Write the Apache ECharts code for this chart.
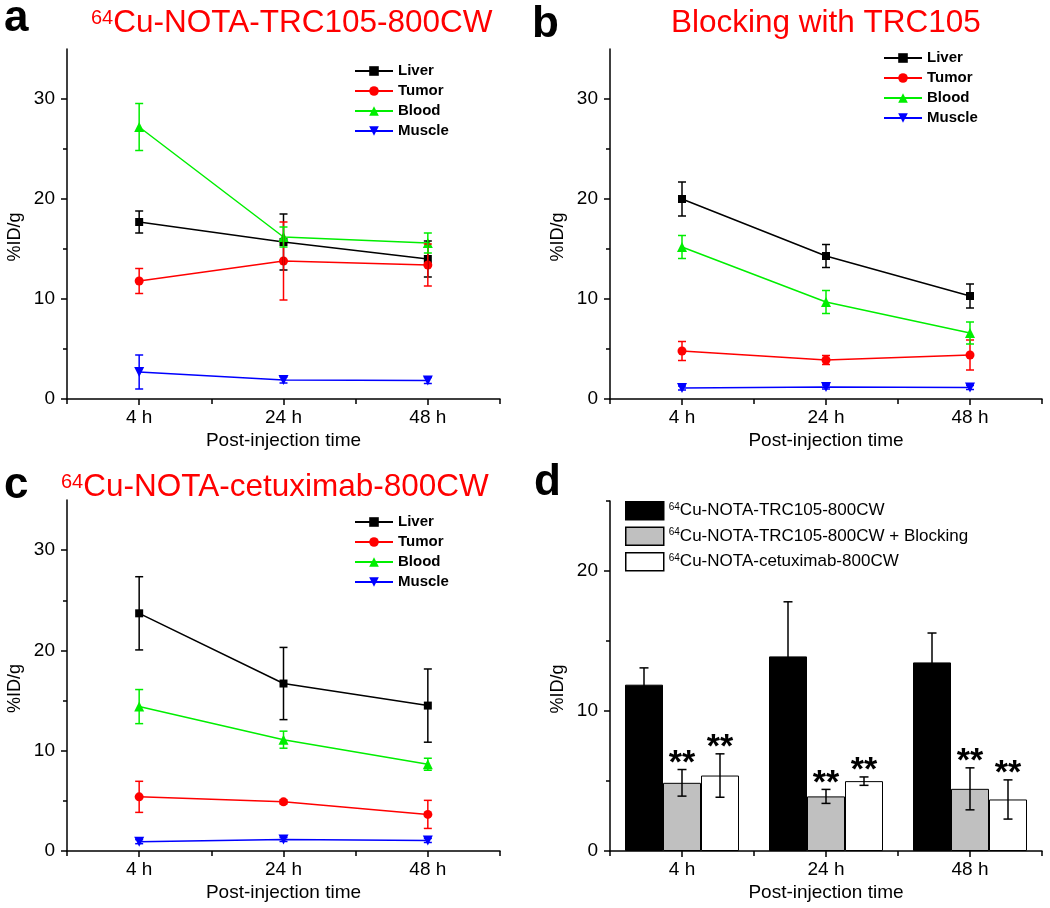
<!DOCTYPE html>
<html><head><meta charset="utf-8">
<script src="https://cdn.jsdelivr.net/npm/echarts@6/dist/echarts.min.js"></script>
<style>html,body{margin:0;padding:0;background:#fff}#c{width:1050px;height:908px}</style>
</head><body><div id="c"></div>
<script>
// ---------- data ----------
const categories = ['4 h', '24 h', '48 h'];
const organs = ['Liver', 'Tumor', 'Blood', 'Muscle'];
const yTicksLine = [0, 10, 20, 30];
const yMinorLine = [5, 15, 25];
const yTicksBar = [0, 10, 20];
const yMinorBar = [5, 15, 25];

// panel a: 64Cu-NOTA-TRC105-800CW
const aLiver = [17.7, 15.7, 14.0];   const aLiverErr = [1.1, 2.8, 1.8];
const aTumor = [11.8, 13.8, 13.4];   const aTumorErr = [1.25, 3.9, 2.1];
const aBlood = [27.2, 16.2, 15.6];   const aBloodErr = [2.35, 1.0, 1.0];
const aMuscle = [2.7, 1.9, 1.85];    const aMuscleErr = [1.7, 0.3, 0.3];
// panel b: Blocking with TRC105
const bLiver = [20.0, 14.3, 10.3];   const bLiverErr = [1.7, 1.15, 1.2];
const bTumor = [4.8, 3.9, 4.4];      const bTumorErr = [0.95, 0.45, 1.5];
const bBlood = [15.2, 9.7, 6.6];     const bBloodErr = [1.15, 1.15, 1.1];
const bMuscle = [1.1, 1.2, 1.15];    const bMuscleErr = [0.2, 0.2, 0.2];
// panel c: 64Cu-NOTA-cetuximab-800CW
const cLiver = [23.7, 16.7, 14.5];   const cLiverErr = [3.65, 3.6, 3.65];
const cTumor = [5.4, 4.9, 3.65];     const cTumorErr = [1.55, 0.2, 1.4];
const cBlood = [14.4, 11.1, 8.65];   const cBloodErr = [1.7, 0.85, 0.6];
const cMuscle = [0.93, 1.15, 1.05];  const cMuscleErr = [0.2, 0.2, 0.2];
// panel d: tumor uptake
const barNames = ['Cu-NOTA-TRC105-800CW', 'Cu-NOTA-TRC105-800CW + Blocking', 'Cu-NOTA-cetuximab-800CW'];
const dTRC = [11.88, 13.9, 13.47];   const dTRCErr = [1.2, 3.9, 2.1];
const dBlock = [4.87, 3.9, 4.44];    const dBlockErr = [0.95, 0.5, 1.5];
const dCetux = [5.39, 4.99, 3.68];   const dCetuxErr = [1.55, 0.3, 1.4];
const dBlockStars = ['**', '**', '**'];
const dCetuxStars = ['**', '**', '**'];

// ---------- styles ----------
const FONT = "'Liberation Sans', Arial, Helvetica, sans-serif";
const organColors = ['#000000', '#ff0000', '#00ee00', '#0000ff'];
const organSymbols = ['rect', 'circle', 'triangle', 'triangle'];
const organRotate = [0, 0, 0, 180];
const organSizes = [8, 9, 10, 10];
const AX = { color: '#000', width: 1.5 };

const grids = [
  { left: 67, top: 49, width: 433, height: 350 },
  { left: 610, top: 49, width: 432, height: 350 },
  { left: 67, top: 500, width: 433, height: 351 },
  { left: 610, top: 501, width: 432, height: 350 }
];

const xAxes = [], yAxes = [];
grids.forEach((gr, g) => {
  xAxes.push({
    type: 'category', gridIndex: g, data: categories, boundaryGap: true, position: 'bottom',
    axisLine: { show: true, lineStyle: AX },
    axisTick: { show: true, alignWithLabel: true, length: 6, lineStyle: AX },
    axisLabel: { fontSize: 19, color: '#000', margin: 9, fontFamily: FONT },
    splitLine: { show: false },
    name: 'Post-injection time', nameLocation: 'middle', nameGap: 32,
    nameTextStyle: { fontSize: 19, color: '#000', fontFamily: FONT }
  });
  xAxes.push({
    type: 'category', gridIndex: g, data: categories, boundaryGap: true, position: 'bottom',
    axisLine: { show: false }, axisTick: { show: true, length: 5, lineStyle: AX },
    axisLabel: { show: false }, splitLine: { show: false }
  });
  const isBar = g === 3;
  const max = isBar ? 25 : 35;
  const major = isBar ? yTicksBar : yTicksLine;
  const minor = isBar ? yMinorBar : yMinorLine;
  yAxes.push({
    type: 'value', gridIndex: g, min: 0, max: max, position: 'left',
    axisLine: { show: true, lineStyle: AX },
    axisTick: { show: true, length: 6, lineStyle: AX, customValues: major },
    axisLabel: { fontSize: 19, color: '#000', margin: 12, fontFamily: FONT, customValues: major },
    splitLine: { show: false },
    name: '%ID/g', nameLocation: 'middle', nameGap: 43, nameRotate: 90,
    nameTextStyle: { fontSize: 18, color: '#000', fontFamily: FONT, padding: [0, 26, 0, 0] }
  });
  yAxes.push({
    type: 'value', gridIndex: g, min: 0, max: max, position: 'left', offset: 0,
    axisLine: { show: false },
    axisTick: { show: true, length: 4, lineStyle: AX, customValues: minor },
    axisLabel: { show: false }, splitLine: { show: false }
  });
});

function errSeries(g, vals, errs, color, offset, capHalf) {
  return {
    type: 'custom', xAxisIndex: 2 * g, yAxisIndex: 2 * g, silent: true, z: 4,
    data: vals.map((v, i) => [i, v - errs[i], v + errs[i]]),
    renderItem: function (params, api) {
      const lo = api.coord([api.value(0), api.value(1)]);
      const hi = api.coord([api.value(0), api.value(2)]);
      const x = lo[0] + offset;
      const st = { stroke: color, lineWidth: 1.5 };
      return { type: 'group', children: [
        { type: 'line', shape: { x1: x, y1: lo[1], x2: x, y2: hi[1] }, style: st },
        { type: 'line', shape: { x1: x - capHalf, y1: lo[1], x2: x + capHalf, y2: lo[1] }, style: st },
        { type: 'line', shape: { x1: x - capHalf, y1: hi[1], x2: x + capHalf, y2: hi[1] }, style: st }
      ] };
    }
  };
}

function starSeries(g, vals, errs, stars, offset) {
  return {
    type: 'custom', xAxisIndex: 2 * g, yAxisIndex: 2 * g, silent: true, z: 5,
    data: vals.map((v, i) => [i, v + errs[i]]),
    renderItem: function (params, api) {
      const p = api.coord([api.value(0), api.value(1)]);
      return { type: 'text', x: p[0] + offset, y: p[1] + 11,
        style: { text: stars[params.dataIndex], fill: '#000', fontSize: 34, fontWeight: 'bold',
          fontFamily: FONT, align: 'center', verticalAlign: 'bottom' } };
    }
  };
}

const series = [];
const linePanels = [
  { g: 0, vals: [aLiver, aTumor, aBlood, aMuscle], errs: [aLiverErr, aTumorErr, aBloodErr, aMuscleErr] },
  { g: 1, vals: [bLiver, bTumor, bBlood, bMuscle], errs: [bLiverErr, bTumorErr, bBloodErr, bMuscleErr] },
  { g: 2, vals: [cLiver, cTumor, cBlood, cMuscle], errs: [cLiverErr, cTumorErr, cBloodErr, cMuscleErr] }
];
linePanels.forEach(p => {
  organs.forEach((o, k) => {
    series.push({
      type: 'line', name: o, xAxisIndex: 2 * p.g, yAxisIndex: 2 * p.g,
      data: p.vals[k], symbol: organSymbols[k], symbolSize: organSizes[k], symbolRotate: organRotate[k],
      lineStyle: { color: organColors[k], width: 1.5 },
      itemStyle: { color: organColors[k] }, z: 3, animation: false
    });
  });
  organs.forEach((o, k) => series.push(errSeries(p.g, p.vals[k], p.errs[k], organColors[k], 0, 4)));
});

const barVals = [dTRC, dBlock, dCetux];
const barErrs = [dTRCErr, dBlockErr, dCetuxErr];
const barColors = ['#000000', '#c0c0c0', '#ffffff'];
const barOffsets = [-38, 0, 38];
barNames.forEach((n, k) => {
  series.push({
    type: 'bar', name: n, xAxisIndex: 6, yAxisIndex: 6, data: barVals[k],
    barWidth: 38, barGap: '0%',
    itemStyle: { color: barColors[k], borderColor: '#000', borderWidth: 1 }, z: 2, animation: false
  });
});
barNames.forEach((n, k) => series.push(errSeries(3, barVals[k], barErrs[k], '#000', barOffsets[k], 4.5)));
series.push(starSeries(3, dBlock, dBlockErr, dBlockStars, 0));
series.push(starSeries(3, dCetux, dCetuxErr, dCetuxStars, 38));

const lineLegendText = { fontSize: 15, fontWeight: 'bold', color: '#000', fontFamily: FONT, lineHeight: 15 };
function lineLegend(left, top) {
  return { data: organs, orient: 'vertical', left: left, top: top, itemWidth: 38, itemHeight: 12,
    itemGap: 5, textStyle: lineLegendText, selectedMode: false, padding: 0 };
}

const titleRich = {
  sup: { fontSize: 20, lineHeight: 20, verticalAlign: 'top', color: '#ff0000', fontFamily: FONT, fontWeight: 'normal' },
  main: { fontSize: 31.5, lineHeight: 31.5, color: '#ff0000', fontFamily: FONT, fontWeight: 'normal' }
};
const titleText = { fontWeight: 'normal', color: '#ff0000', fontFamily: FONT, rich: titleRich };
const labelStyle = { fontSize: 44, fontWeight: 'bold', color: '#000', fontFamily: FONT, lineHeight: 44 };

const option = {
  backgroundColor: '#fff',
  animation: false,
  grid: grids,
  xAxis: xAxes,
  yAxis: yAxes,
  title: [
    { text: '{sup|64}{main|Cu-NOTA-TRC105-800CW}', left: 91, top: 8, padding: 0, textStyle: titleText },
    { text: 'Blocking with TRC105', left: 671, top: 8, padding: 0, textStyle: { fontSize: 31.5, lineHeight: 31.5, color: '#ff0000', fontWeight: 'normal', fontFamily: FONT } },
    { text: '{sup|64}{main|Cu-NOTA-cetuximab-800CW}', left: 61, top: 472, padding: 0, textStyle: titleText },
    { text: 'a', left: 4, top: -3, padding: 0, textStyle: labelStyle },
    { text: 'b', left: 532, top: 3, padding: 0, textStyle: labelStyle },
    { text: 'c', left: 4, top: 464, padding: 0, textStyle: labelStyle },
    { text: 'd', left: 534, top: 461, padding: 0, textStyle: labelStyle }
  ],
  legend: [
    lineLegend(354, 63.5),
    lineLegend(883, 50.5),
    lineLegend(354, 514.5),
    { data: barNames, orient: 'vertical', left: 625, top: 501, itemWidth: 38, itemHeight: 18, itemGap: 6,
      icon: 'rect', selectedMode: false, padding: 0,
      itemStyle: { borderColor: '#000', borderWidth: 1.5 },
      formatter: name => '{sup|64}{t|' + name + '}',
      textStyle: { color: '#000', fontFamily: FONT, rich: {
        sup: { fontSize: 10, lineHeight: 18, verticalAlign: 'top', color: '#000', fontFamily: FONT },
        t: { fontSize: 17, lineHeight: 18, color: '#000', fontFamily: FONT } } } }
  ],
  series: series
};

const chart = echarts.init(document.getElementById('c'), null, { renderer: 'canvas' });
chart.setOption(option);
</script>
</body></html>
